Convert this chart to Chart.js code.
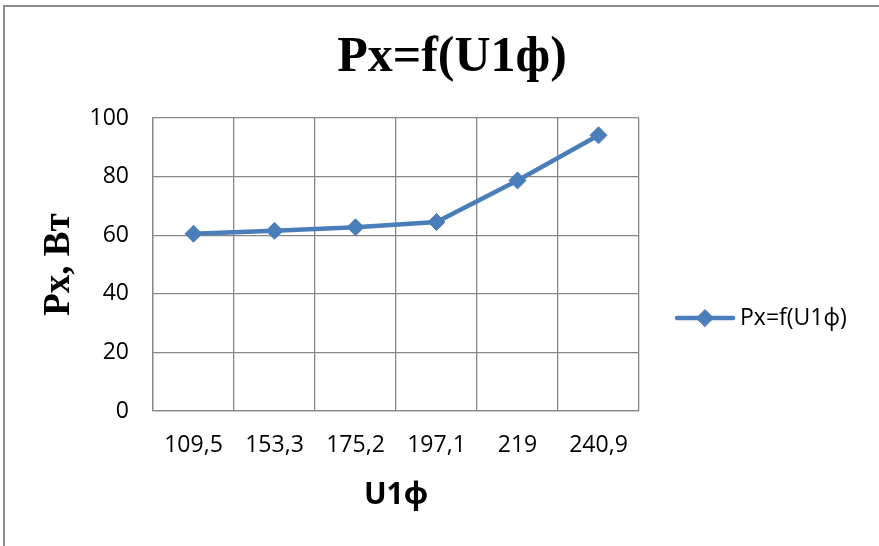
<!DOCTYPE html>
<html>
<head>
<meta charset="utf-8">
<title>Px=f(U1ф)</title>
<script src="https://cdn.jsdelivr.net/npm/chart.js@4"></script>
<style>
    html, body { margin: 0; padding: 0; background: #fff; overflow: hidden; }
    #wrap { position: relative; width: 879px; height: 546px; }
    #frame {
        position: absolute; left: 3px; top: 5px; right: 0; bottom: -10px;
        border-top: 2px solid #8c8c8c; border-left: 2px solid #8c8c8c;
    }
    #chart { position: absolute; left: 0; top: 0; }
</style>
</head>
<body>
<div id="wrap">
    <div id="frame"></div>
    <canvas id="chart" width="879" height="546"></canvas>
</div>
<script>
// phase voltage values (category labels) and measured no-load power
const voltageLabels = ['109,5', '153,3', '175,2', '197,1', '219', '240,9'];
const powerValues = [60.5, 61.5, 62.7, 64.5, 78.7, 94.1];
const yTicks = [0, 20, 40, 60, 80, 100];
const seriesName = 'Px=f(U1ф)';

const lineColor = '#4A7EBB';
const gridColor = '#878787';
const labelFont = { family: '"Open Sans", "Liberation Sans", sans-serif', size: 23 };

/**
 * Side legend: a layout box on the right that reserves space
 * and draws the series sample (line + diamond) and its name.
 */
const sideLegend = {
    id: 'sideLegend',
    beforeInit(chart) {
        const box = {
            position: 'right',
            weight: 0,
            fullSize: false,
            options: {},
            width: 240,
            height: 0,
            isHorizontal() { return false; },
            update(maxWidth, maxHeight) {
                this.width = 240;
                this.height = maxHeight;
            },
            draw() {
                const ctx = chart.ctx;
                const ds = chart.data.datasets[0];
                const x0 = this.left + 38;
                const y = 318;
                ctx.save();
                ctx.strokeStyle = ds.borderColor;
                ctx.lineWidth = ds.borderWidth;
                ctx.lineCap = 'round';
                ctx.beginPath();
                ctx.moveTo(x0, y);
                ctx.lineTo(x0 + 56, y);
                ctx.stroke();
                ctx.fillStyle = ds.pointBackgroundColor;
                ctx.strokeStyle = ds.pointBorderColor;
                ctx.lineWidth = 1;
                Chart.helpers.drawPoint(ctx, {
                    pointStyle: 'rectRot',
                    radius: ds.pointRadius,
                    borderWidth: 1
                }, x0 + 28, y);
                ctx.fillStyle = '#000';
                ctx.font = labelFont.size + 'px ' + labelFont.family;
                ctx.textAlign = 'left';
                ctx.textBaseline = 'middle';
                ctx.fillText(ds.label, x0 + 63, y);
                ctx.restore();
            }
        };
        Chart.layouts.addBox(chart, box);
    }
};

const ctx = document.getElementById('chart').getContext('2d');

new Chart(ctx, {
    type: 'line',
    data: {
        labels: voltageLabels,
        datasets: [{
            label: seriesName,
            data: powerValues,
            borderColor: lineColor,
            borderWidth: 4.5,
            pointStyle: 'rectRot',
            pointRadius: 8.5,
            pointBackgroundColor: lineColor,
            pointBorderColor: lineColor,
            pointBorderWidth: 1,
            tension: 0,
            fill: false
        }]
    },
    options: {
        responsive: false,
        animation: false,
        layout: { padding: { left: 25, right: 0, top: 0, bottom: 0 } },
        plugins: {
            legend: { display: false },
            tooltip: { enabled: false },
            title: {
                display: true,
                text: seriesName,
                color: '#000',
                font: { family: '"Liberation Serif", "Times New Roman", serif', size: 50, weight: 'bold' },
                padding: { top: 28, bottom: 30 }
            }
        },
        scales: {
            x: {
                type: 'category',
                offset: true,
                grid: { offset: true, color: gridColor, lineWidth: 1.3, drawTicks: false },
                border: { color: gridColor, width: 1.3 },
                ticks: { color: '#000', font: labelFont, padding: 21, maxRotation: 0 },
                title: {
                    display: true,
                    text: 'U1ф',
                    color: '#000',
                    font: { family: '"Open Sans", "Liberation Sans", sans-serif', size: 30, weight: 'bold' },
                    padding: { top: 0, bottom: 33 }
                },
                afterFit(scale) { scale.height = 135; }
            },
            y: {
                min: 0,
                max: 100,
                grid: { color: gridColor, lineWidth: 1.3, drawTicks: false },
                border: { color: gridColor, width: 1.3 },
                afterBuildTicks(scale) {
                    scale.ticks = yTicks.map(v => ({ value: v }));
                },
                ticks: { color: '#000', font: labelFont, padding: 24 },
                title: {
                    display: true,
                    text: 'Px, Вт',
                    color: '#000',
                    font: { family: '"Liberation Serif", "Times New Roman", serif', size: 37, weight: 'bold' },
                    padding: { top: 12, bottom: 0 }
                },
                afterFit(scale) { scale.width = 128; }
            }
        }
    },
    plugins: [sideLegend]
});
</script>
</body>
</html>
